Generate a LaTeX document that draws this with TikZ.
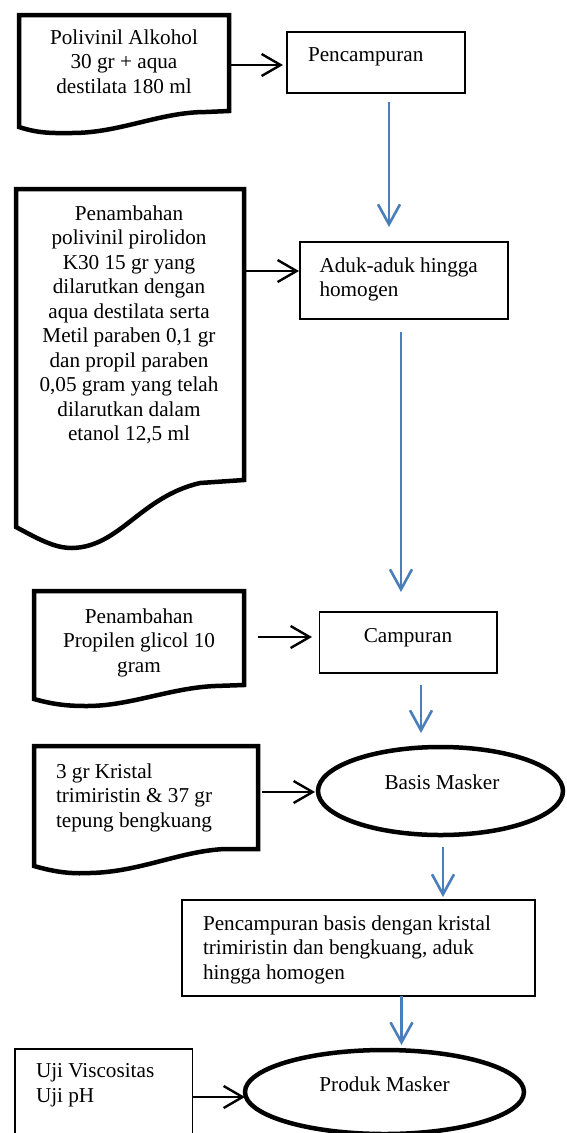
\documentclass[tikz,border=0pt]{standalone}
\usepackage{fontspec}
\setmainfont{Liberation Serif}
\usetikzlibrary{arrows.meta,shapes.geometric}
\definecolor{flowblue}{RGB}{74,126,187}
\begin{document}
\begin{tikzpicture}[x=1pt,y=-1pt,
  every node/.style={font=\fontsize{21.2}{24.5}\selectfont, inner sep=0pt, outer sep=0pt},
  inv/.style={draw=none, rectangle},
  docline/.style={line width=4.5pt, line join=miter},
  thinbox/.style={draw, rectangle, line width=1.2pt},
  oval/.style={draw, ellipse, line width=4.5pt},
  txt/.style={align=center, anchor=north},
  ltxt/.style={align=left, anchor=north west},
  blkarrow/.style={line width=2.4pt, -{Straight Barb[length=19pt,width=22pt]}},
  bluearrow/.style={draw=flowblue, line width=2.6pt, -{Straight Barb[length=20pt,width=22pt]}}]
\useasboundingbox (0,0) rectangle (566,1133);

% document shapes (geometry nodes + outlines)
\node[inv, minimum width=210pt, minimum height=96pt] (doc1) at (124,63) {};
\draw[docline] (doc1.south east) -- (doc1.north east) -- (doc1.north west) -- (19,127)
  .. controls (40,134) and (55,133) .. (72,133) .. controls (120,133) and (160,112) .. (206,112) -- cycle;

\node[inv, minimum width=228pt, minimum height=291pt] (doc2) at (130,334.5) {};
\draw[docline] (doc2.south east) -- (doc2.north east) -- (doc2.north west) -- (16,527)
  .. controls (40,540) and (55,548) .. (72,548) .. controls (120,547) and (140,497) .. (200,483) -- cycle;

\node[inv, minimum width=210pt, minimum height=94pt] (doc3) at (139,638) {};
\draw[docline] (doc3.south east) -- (doc3.north east) -- (doc3.north west) -- (34,699)
  .. controls (55,705) and (70,706) .. (87,706) .. controls (130,706) and (170,688) .. (215,686) -- cycle;

\node[inv, minimum width=224pt, minimum height=103pt] (doc4) at (146,797.5) {};
\draw[docline] (doc4.south east) -- (doc4.north east) -- (doc4.north west) -- (34,866)
  .. controls (55,872) and (70,874) .. (90,873) .. controls (140,872) and (180,851) .. (225,849) -- cycle;

% process boxes and terminals
\node[thinbox, minimum width=178pt, minimum height=61pt] (pcamp) at (376,62.5) {};
\node[thinbox, minimum width=208pt, minimum height=77pt] (aduk) at (404,280.5) {};
\node[thinbox, minimum width=177.5pt, minimum height=61pt] (campur) at (408.25,642.5) {};
\node[thinbox, minimum width=353pt, minimum height=96pt] (pcb) at (358.5,948) {};
\node[thinbox, minimum width=177.5pt, minimum height=101pt] (uji) at (103.75,1099.5) {};
\node[oval, minimum width=245pt, minimum height=88pt] (basis) at (440.5,791) {};
\node[oval, minimum width=279pt, minimum height=84pt] (produk) at (384.5,1092) {};

% texts
\node[txt] (doc1t) at (124,29.5) {Polivinil Alkohol\\30 gr + aqua\\destilata 180 ml};
\node[txt] (doc2t) at (129,205.5) {Penambahan\\polivinil pirolidon\\K30 15 gr yang\\dilarutkan dengan\\aqua destilata serta\\Metil paraben 0,1 gr\\dan propil paraben\\0,05 gram yang telah\\dilarutkan dalam\\etanol 12,5 ml};
\node[txt] (doc3t) at (139,608.5) {Penambahan\\Propilen glicol 10\\gram};
\node[ltxt] (doc4t) at (56,763.5) {3 gr Kristal\\trimiristin \& 37 gr\\tepung bengkuang};
\node[ltxt] (pcampt) at (308,47.5) {Pencampuran};
\node[ltxt] (adukt) at (319.5,257.5) {Aduk-aduk hingga\\homogen};
\node[txt] (campurt) at (408,628) {Campuran};
\node[txt] (basist) at (442,775) {Basis Masker};
\node[ltxt] (pcbt) at (203,915.5) {Pencampuran basis dengan kristal\\trimiristin dan bengkuang, aduk\\hingga homogen};
\node[txt] (produkt) at (384.5,1077) {Produk Masker};
\node[ltxt] (ujit) at (36,1063.5) {Uji Viscositas\\Uji pH};

% black arrows
\draw[blkarrow, shorten <=2pt, shorten >=4pt] (doc1.east |- 0,65) -- (pcamp.west |- 0,65);
\draw[blkarrow, shorten <=2pt, shorten >=1pt] (doc2.east |- 0,271) -- (aduk.west |- 0,271);
\draw[blkarrow, shorten <=14pt, shorten >=7.5pt] (doc3.east |- 0,637) -- (campur.west |- 0,637);
\draw[blkarrow, shorten <=4pt, shorten >=3pt] (doc4.east |- 0,792) -- (basis.west |- 0,792);
\draw[blkarrow] (uji.east |- 0,1097) -- (produk.west |- 0,1097);

% blue arrows
\draw[bluearrow, shorten <=9pt, shorten >=15pt] (389,0 |- pcamp.south) -- (389,0 |- aduk.north);
\draw[bluearrow, shorten <=13pt, shorten >=20pt] (401,0 |- aduk.south) -- (401,0 |- campur.north);
\draw[bluearrow, shorten <=12pt, shorten >=14pt] (421,0 |- campur.south) -- (421,0 |- basis.north);
\draw[bluearrow, shorten <=12pt, shorten >=3pt] (443,0 |- basis.south) -- (443,0 |- pcb.north);
\draw[bluearrow, shorten >=5pt] (401.5,0 |- pcb.south) -- (401.5,0 |- produk.north);
\end{tikzpicture}
\end{document}
